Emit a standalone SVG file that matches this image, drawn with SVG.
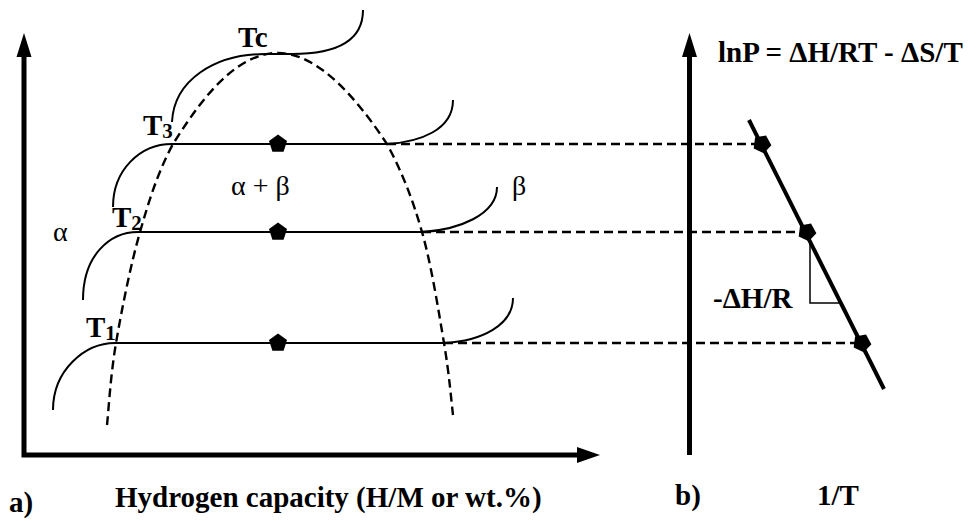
<svg xmlns="http://www.w3.org/2000/svg" xmlns:xlink="http://www.w3.org/1999/xlink" width="976" height="521" viewBox="0 0 976 521">
<style>
.ax{stroke:#000;stroke-width:5;fill:none}
.cv{stroke:#000;stroke-width:2;fill:none}
.ds{stroke:#000;stroke-width:2.4;fill:none;stroke-dasharray:9 5}
text{fill:#000;font-size:28px}
.b{font-weight:bold;font-size:29px}
.sub{font-size:21px}
</style>
<defs>
<polygon id="pent" points="0,-9.5 9,-2.9 5.6,7.7 -5.6,7.7 -9,-2.9" fill="#000"/>
</defs>
<rect width="976" height="521" fill="#fff"/>
<g id="axes-a">
<path class="ax" d="M24,57 V455 H578"/>
<polygon points="24,33 16.5,57 31.5,57" fill="#000"/>
<polygon points="600,455 577,447 577,463" fill="#000"/>
</g>
<g id="axes-b">
<path class="ax" d="M689.5,57 V455"/>
<polygon points="689.5,33 682,57 697,57" fill="#000"/>
</g>
<g id="dome">
<path class="ds" d="M107,425 C108.5,411.3 110.5,375.2 116,343 C121.5,310.8 130.5,265.2 140,232 C149.5,198.8 158,172 173,144 C196,108 232,53 278,53 C322,53 363,108 387,144 C402,172 412.5,198.8 422,232 C431.5,265.2 438.8,312.5 444,343 C449.2,373.5 451.5,403 453,415"/>
</g>
<g id="isotherm-Tc">
<path class="cv" d="M172,122 C174,80 215,54 265,54 L292,54 C335,54 363,42 363,10"/>
</g>
<g id="isotherm-T3">
<path class="cv" d="M113,207 C113,170 140,144 172,144 L387,144 C420,142 453,130 453,100"/>
</g>
<g id="isotherm-T2">
<path class="cv" d="M83,300 C83,255 110,232 138,232 L422,232 C458,230 497,215 497,187"/>
</g>
<g id="isotherm-T1">
<path class="cv" d="M53,410 C53,370 85,343 115,343 L444,343 C482,341 513,325 513,298"/>
</g>
<g id="plateau-points">
<use xlink:href="#pent" x="278" y="144"/>
<use xlink:href="#pent" x="278" y="232"/>
<use xlink:href="#pent" x="278" y="343"/>
</g>
<g id="connectors">
<path class="ds" d="M387,144 H762"/>
<path class="ds" d="M422,232 H807"/>
<path class="ds" d="M444,343 H862"/>
</g>
<g id="vanthoff-line">
<path stroke="#000" stroke-width="4" fill="none" d="M749,120 L884,389"/>
<path stroke="#000" stroke-width="1.5" fill="none" d="M810,239 V303 H842"/>
<use xlink:href="#pent" transform="translate(762,144) rotate(25)"/>
<use xlink:href="#pent" transform="translate(807,232) rotate(25)"/>
<use xlink:href="#pent" transform="translate(862,343) rotate(25)"/>
</g>
<g id="labels" font-family="Liberation Serif, Times New Roman, DejaVu Serif, serif">
<text class="b" x="238" y="47">Tc</text>
<text class="b" x="143" y="135">T<tspan class="sub" dy="3">3</tspan></text>
<text class="b" x="112" y="227">T<tspan class="sub" dy="3">2</tspan></text>
<text class="b" x="86" y="337">T<tspan class="sub" dy="3">1</tspan></text>
<text x="53" y="241">α</text>
<text x="231" y="195">α + β</text>
<text x="512" y="195">β</text>
<text class="b" x="718" y="62">lnP = ΔH/RT - ΔS/T</text>
<text class="b" x="713" y="308">-ΔH/R</text>
<text class="b" x="9" y="512">a)</text>
<text class="b" x="115" y="507">Hydrogen capacity (H/M or wt.%)</text>
<text class="b" x="675" y="505">b)</text>
<text class="b" x="817" y="505">1/T</text>
</g>
</svg>
